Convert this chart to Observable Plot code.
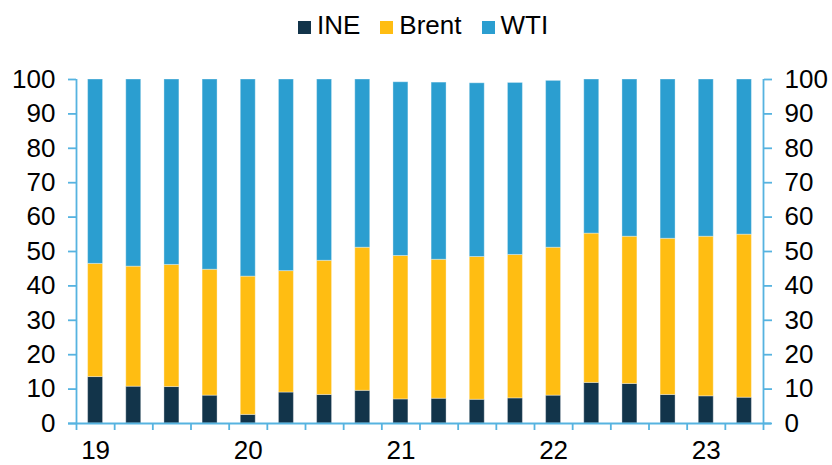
<!DOCTYPE html>
<html>
<head>
<meta charset="utf-8">
<script src="https://cdn.jsdelivr.net/npm/d3@7"></script>
<script src="https://cdn.jsdelivr.net/npm/@observablehq/plot@0.6"></script>
<style>
  html, body { margin: 0; padding: 0; background: #fff; }
  body { width: 832px; height: 465px; overflow: hidden; font-family: "Liberation Sans", Arial, sans-serif; }
  #legend { height: 50px; display: flex; align-items: center; justify-content: flex-start; padding-left: 298px; font-size: 26px; color: #000; box-sizing: border-box; }
  .item { display: flex; align-items: center; margin-right: 20px; }
  .sw { width: 13px; height: 13px; margin-right: 6px; transform: translateY(2px); }
  svg { display: block; }
</style>
</head>
<body>
<div id="legend"></div>
<div id="chart"></div>
<script>
const quarters = ["19Q1","19Q2","19Q3","19Q4","20Q1","20Q2","20Q3","20Q4","21Q1","21Q2","21Q3","21Q4","22Q1","22Q2","22Q3","22Q4","23Q1","23Q2"];
const yearLabels = ["19","20","21","22","23"];
const series = ["INE","Brent","WTI"];
const colors = ["#12344a","#ffbd12","#2b9ed0"];
const ine   = [13.5,10.7,10.6,8.1,2.5,9.0,8.3,9.5,7.0,7.2,6.9,7.3,8.1,11.8,11.5,8.3,7.9,7.5];
const brent = [32.9,34.9,35.5,36.6,40.2,35.3,39.0,41.6,41.7,40.4,41.5,41.7,43.0,43.4,42.8,45.4,46.4,47.4];
const wti   = [53.6,54.4,53.9,55.3,57.3,55.7,52.7,48.9,50.5,51.5,50.5,50.0,48.5,44.8,45.7,46.3,45.7,45.1];
const yTicks = [0,10,20,30,40,50,60,70,80,90,100];

const axisColor = "#56b3e0";
const values = {INE: ine, Brent: brent, WTI: wti};
const data = quarters.flatMap((q, i) => series.map(s => ({i, q, series: s, value: values[s][i]})));
const n = quarters.length;
const labelPos = quarters.map((q, i) => q.endsWith("Q1") ? i + 0.5 : null).filter(d => d !== null);

// legend
const legend = document.getElementById("legend");
series.forEach((s, k) => {
  const it = document.createElement("div");
  it.className = "item";
  it.innerHTML = `<span class="sw" style="background:${colors[k]}"></span><span>${s}</span>`;
  legend.appendChild(it);
});

const chart = Plot.plot({
  width: 832,
  height: 415,
  marginLeft: 76,
  marginRight: 69,
  marginTop: 29,
  marginBottom: 42,
  style: {fontFamily: "'Liberation Sans', Arial, sans-serif", fontSize: "26px", color: "#000", background: "#fff"},
  x: {type: "linear", domain: [0, n], axis: null},
  y: {domain: [0, 100], axis: null},
  color: {domain: series, range: colors},
  marks: [
    Plot.rectY(data, {x1: "i", x2: d => d.i + 1, y: "value", fill: "series", insetLeft: 11.6, insetRight: 11.6, stroke: "#ffffff", strokeOpacity: 0.35, strokeWidth: 1}),
    Plot.ruleX([0, n], {y1: 0, y2: 100, stroke: axisColor, strokeWidth: 1.8}),
    Plot.ruleY([0], {stroke: axisColor, strokeWidth: 1.8, insetLeft: -8, insetRight: -8}),
    Plot.axisY({anchor: "left", ticks: yTicks, tickSize: 8, tickPadding: 13, stroke: axisColor, strokeWidth: 1.8, fill: "#000", fontSize: 26, label: null}),
    Plot.axisY({anchor: "right", ticks: yTicks, tickSize: 8, tickPadding: 13, stroke: axisColor, strokeWidth: 1.8, fill: "#000", fontSize: 26, label: null}),
    Plot.axisX({ticks: d3.range(0, n + 1), tickSize: 7, tickFormat: () => "", stroke: axisColor, strokeWidth: 1.8, label: null}),
    Plot.axisX({ticks: labelPos, tickSize: 0, tickPadding: 17, tickFormat: (d) => yearLabels[labelPos.indexOf(d)], fill: "#000", fontSize: 26, label: null})
  ]
});
document.getElementById("chart").appendChild(chart);
</script>
</body>
</html>
